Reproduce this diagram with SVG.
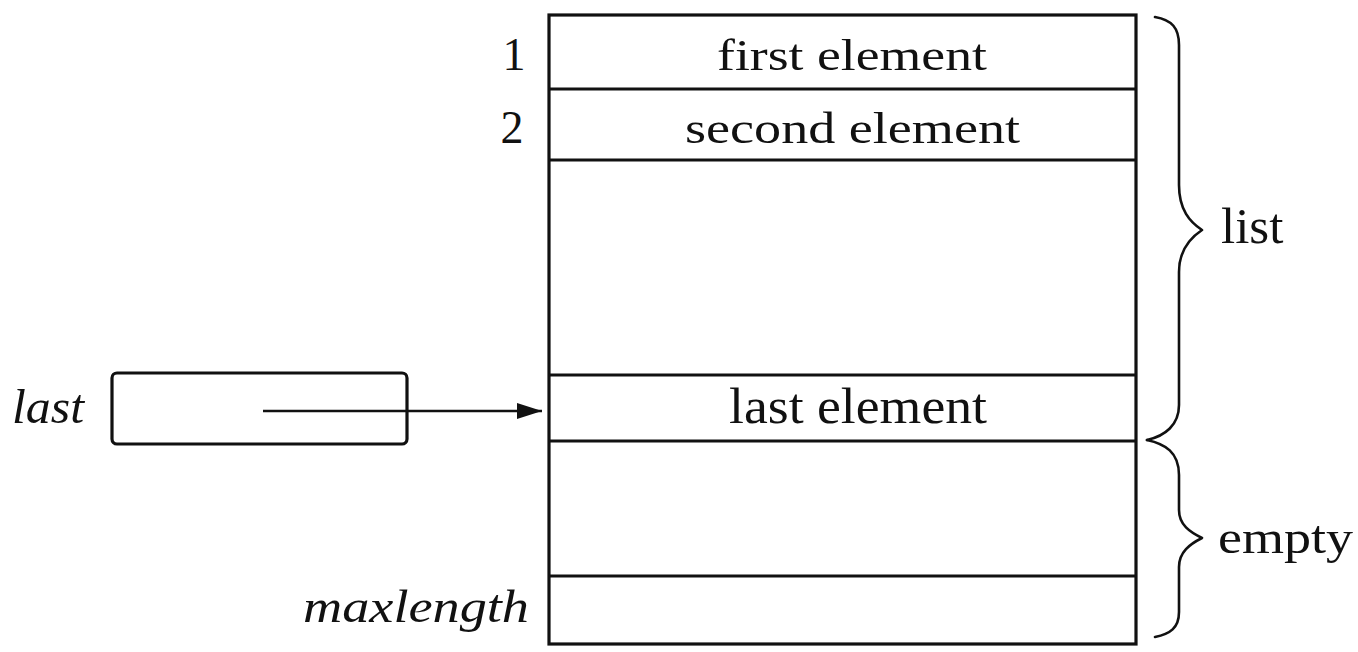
<svg xmlns="http://www.w3.org/2000/svg" width="1358" height="652" viewBox="0 0 1358 652">
<defs>
<style>
.ln{stroke:#111;stroke-width:3.2;fill:none}
.t{font-family:"Liberation Serif","Times New Roman",serif;fill:#111}
.it{font-style:italic}
.br{stroke:#111;stroke-width:2.6;fill:none;stroke-linecap:round;stroke-linejoin:round}
</style>
<marker id="ah" viewBox="0 0 25 16" refX="25" refY="8" markerWidth="25" markerHeight="16" markerUnits="userSpaceOnUse" orient="auto">
<path d="M0,0 L25,8 L0,16 z" fill="#111"/>
</marker>
</defs>
<rect width="1358" height="652" fill="#fff"/>
<g id="table">
<rect class="ln" x="549" y="15" width="587" height="629"/>
<line class="ln" x1="549" y1="89" x2="1136" y2="89"/>
<line class="ln" x1="549" y1="160" x2="1136" y2="160"/>
<line class="ln" x1="549" y1="375" x2="1136" y2="375"/>
<line class="ln" x1="549" y1="441" x2="1136" y2="441"/>
<line class="ln" x1="549" y1="576" x2="1136" y2="576"/>
</g>
<g id="cell1">
<text class="t" x="514" y="70" font-size="46" text-anchor="middle">1</text>
<text class="t" x="717" y="70" font-size="45" textLength="270" lengthAdjust="spacingAndGlyphs">first element</text>
</g>
<g id="cell2">
<text class="t" x="512" y="143" font-size="46" text-anchor="middle">2</text>
<text class="t" x="685" y="143" font-size="45" textLength="335" lengthAdjust="spacingAndGlyphs">second element</text>
</g>
<g id="cellLast">
<text class="t" x="729" y="423" font-size="50" textLength="258" lengthAdjust="spacingAndGlyphs">last element</text>
</g>
<g id="cellMax">
<text class="t it" x="303" y="622" font-size="47" textLength="226" lengthAdjust="spacingAndGlyphs">maxlength</text>
</g>
<g id="lastVar">
<text class="t it" x="12" y="423" font-size="48" textLength="72" lengthAdjust="spacingAndGlyphs">last</text>
<rect class="ln" x="112" y="373" width="295" height="71" rx="5"/>
</g>
<g id="braces">
<path class="br" d="M1155,17 C1172,20 1179,28 1179,45 L1179,185 C1179,210 1190,222 1202,230 C1190,238 1179,250 1179,272 L1179,405 C1179,425 1165,436 1147,440"/>
<path class="br" d="M1147,440 C1165,444 1179,452 1179,475 L1179,510 C1179,525 1190,532 1202,538 C1190,544 1179,552 1179,567 L1179,612 C1179,628 1170,634 1155,637"/>
<text class="t" x="1221" y="243" font-size="51">list</text>
<text class="t" x="1218" y="553" font-size="47" textLength="135" lengthAdjust="spacingAndGlyphs">empty</text>
</g>
<g id="connectors">
<line x1="263" y1="411" x2="542" y2="411" stroke="#111" stroke-width="2.5" marker-end="url(#ah)"/>
</g>
</svg>
